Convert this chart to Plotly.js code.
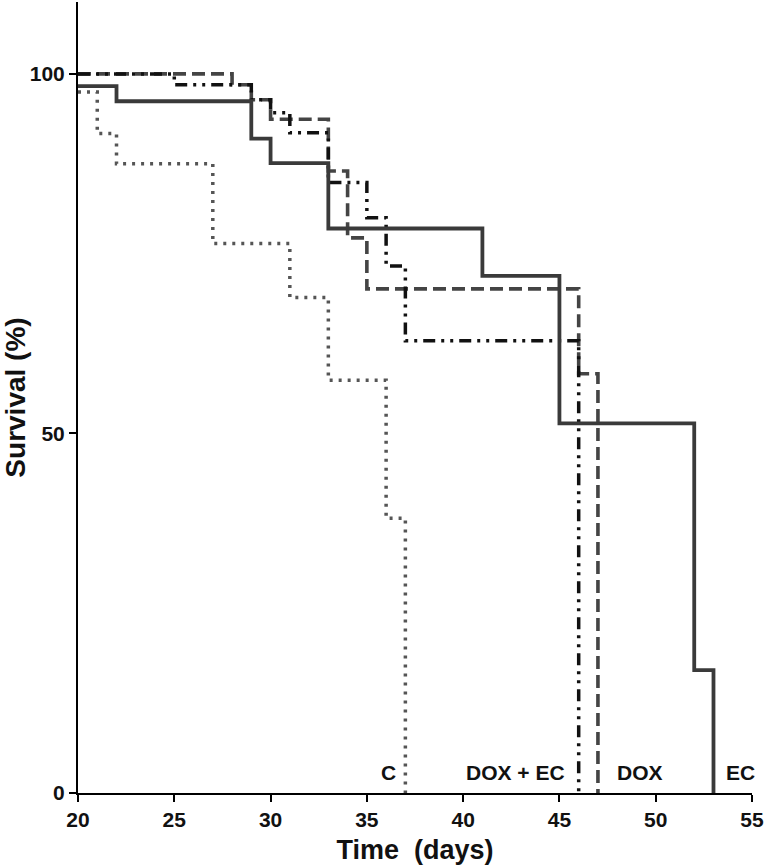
<!DOCTYPE html>
<html>
<head>
<meta charset="utf-8">
<script src="https://cdn.plot.ly/plotly-3.0.1.min.js"></script>
<style>html,body{margin:0;padding:0;background:#fff;}#chart{width:764px;height:865px;}</style>
</head>
<body>
<div id="chart"></div>
<script>
// Kaplan-Meier step data (time in days, survival in %)
const timeC = [20, 21, 22, 27, 31, 33, 36, 37];
const survC = [97.5, 91.7, 87.5, 76.4, 68.9, 57.4, 38.2, 0];

const timeDOX = [20, 28, 29, 30, 33, 34, 35, 46, 47];
const survDOX = [100, 98.5, 96.4, 93.7, 86.5, 77.2, 70.1, 58.3, 0];

const timeDOXEC = [20, 25, 29, 30, 31, 33, 35, 36, 37, 46];
const survDOXEC = [100, 98.5, 96.4, 94.6, 91.8, 84.9, 80.0, 73.3, 62.9, 0];

const timeEC = [20, 22, 29, 30, 33, 41, 45, 52, 53];
const survEC = [98.3, 96.2, 91.0, 87.6, 78.5, 71.9, 51.4, 17.1, 0];

const groupLabels = ["C", "DOX + EC", "DOX", "EC"];
const labelX = [36.1, 42.7, 49.2, 54.4];
const labelY = [2.8, 2.8, 2.8, 2.8];

const xTicks = [20, 25, 30, 35, 40, 45, 50, 55];
const yTicks = [0, 50, 100];

const fontFam = '"Liberation Sans", Arial, Helvetica, sans-serif';

const traces = [
  {x: timeC, y: survC, mode: 'lines', line: {shape: 'hv', color: '#555555', width: 3.5, dash: '3px,6px'}, name: 'C'},
  {x: timeDOX, y: survDOX, mode: 'lines', line: {shape: 'hv', color: '#444444', width: 3.6, dash: '13px,6px'}, name: 'DOX'},
  {x: timeDOXEC, y: survDOXEC, mode: 'lines', line: {shape: 'hv', color: '#111111', width: 3.5, dash: '12px,6px,3px,6px,3px,6px'}, name: 'DOX + EC'},
  {x: timeEC, y: survEC, mode: 'lines', line: {shape: 'hv', color: '#3a3a3a', width: 3.8}, name: 'EC'}
];

const annotations = groupLabels.map((t, i) => ({
  x: labelX[i], y: labelY[i], xref: 'x', yref: 'y', text: '<b>' + t + '</b>',
  showarrow: false, xanchor: 'center', yanchor: 'middle',
  font: {family: fontFam, size: 21, color: '#111'}
}));

const layout = {
  width: 764, height: 865,
  margin: {l: 78, r: 12, t: 2, b: 72},
  paper_bgcolor: '#fff', plot_bgcolor: '#fff',
  showlegend: false,
  xaxis: {
    range: [20, 55], tickvals: xTicks, ticktext: xTicks.map(v => '<b>' + v + '</b>'),
    showgrid: false, zeroline: false, showline: true, linecolor: '#000', linewidth: 2,
    ticks: 'outside', ticklen: 7, tickwidth: 2, tickcolor: '#000',
    tickfont: {family: fontFam, size: 21, color: '#111'},
    title: {text: '<b>Time  (days)</b>', font: {family: fontFam, size: 27, color: '#111'}, standoff: 10}
  },
  yaxis: {
    range: [0, 110], tickvals: yTicks, ticktext: yTicks.map(v => '<b>' + v + '</b>'),
    showgrid: false, zeroline: false, showline: true, linecolor: '#000', linewidth: 2,
    ticks: 'outside', ticklen: 7, tickwidth: 2, tickcolor: '#000',
    tickfont: {family: fontFam, size: 21, color: '#111'},
    title: {text: '<b>Survival (%)</b>', font: {family: fontFam, size: 28, color: '#111'}, standoff: 6}
  },
  annotations: annotations
};

Plotly.newPlot('chart', traces, layout, {displayModeBar: false, staticPlot: true});
</script>
</body>
</html>
